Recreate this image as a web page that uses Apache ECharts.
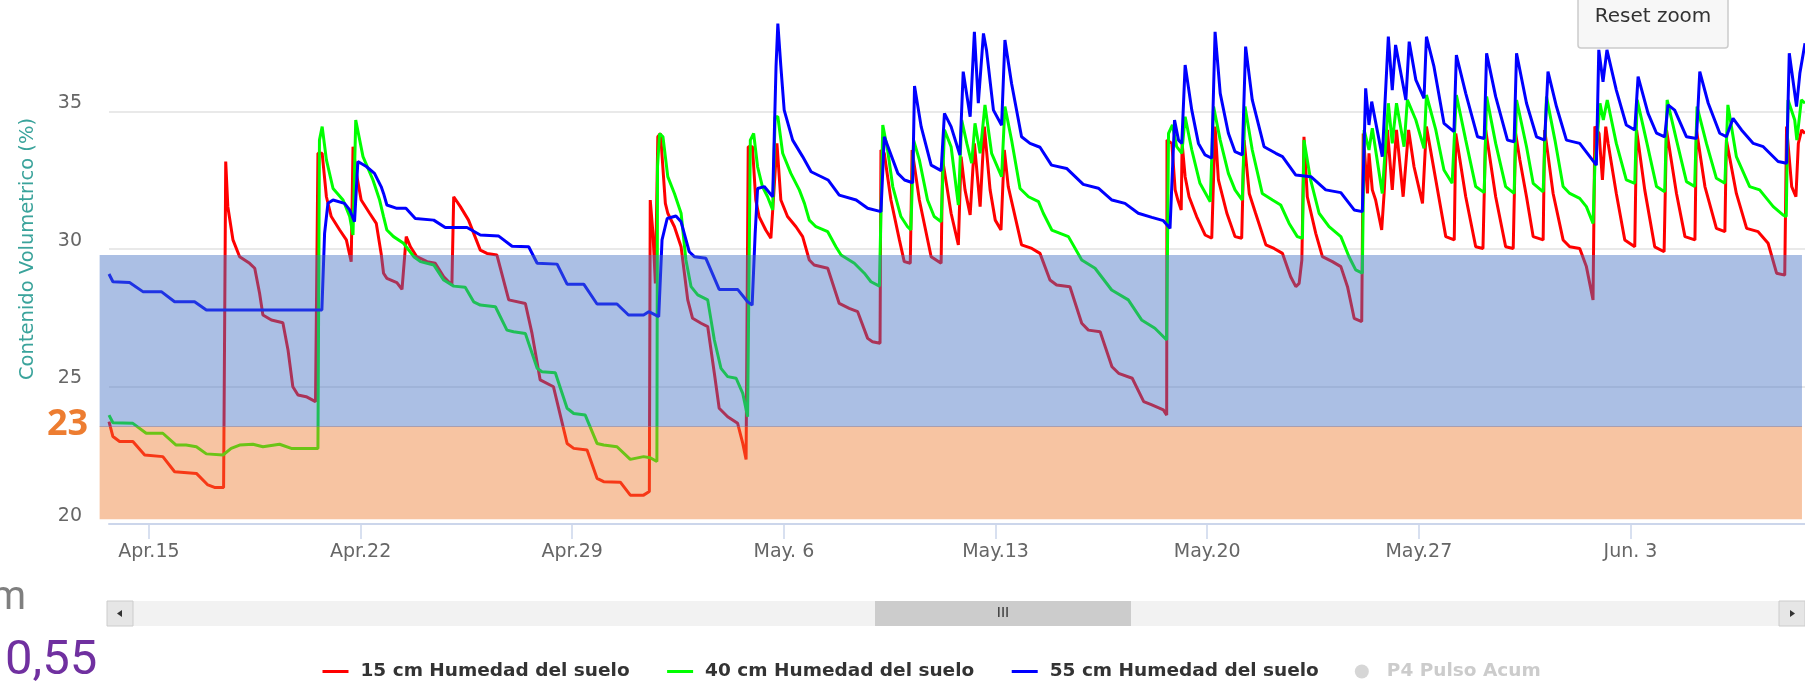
<!DOCTYPE html>
<html>
<head>
<meta charset="utf-8">
<script src="https://cdn.jsdelivr.net/npm/echarts@6/dist/echarts.min.js"></script>
<style>
  html, body { margin: 0; padding: 0; background: #fff; }
  #main { width: 1805px; height: 683px; }
</style>
</head>
<body>
<div id="main"></div>
<script>
// x values are days since Apr 15 (00:00), y values are % volumetric water
const seriesNames = ['15 cm Humedad del suelo', '40 cm Humedad del suelo', '55 cm Humedad del suelo', 'P4 Pulso Acum'];
const seriesColors = ['#ff0000', '#00ff00', '#0000ff', '#cccccc'];

const hum15 = [
  [-1.32,23.72],[-1.19,23.18],[-0.97,23.0],[-0.53,23.0],[-0.14,22.51],[0.46,22.45],[0.85,21.9],[1.57,21.84],[1.95,21.42],[2.17,21.33],[2.47,21.33],
  [2.54,33.18],[2.61,31.54],[2.78,30.33],[3.0,29.72],[3.33,29.48],[3.5,29.3],[3.66,28.39],[3.77,27.6],[4.05,27.42],[4.43,27.32],[4.6,26.33],[4.76,24.99],[4.93,24.69],[5.2,24.63],[5.51,24.45],
  [5.59,33.48],[5.73,33.48],[5.87,31.9],[6.03,31.18],[6.31,30.69],[6.53,30.33],[6.69,29.54],[6.75,33.72],[6.86,32.75],[7.02,31.78],[7.3,31.3],[7.52,30.93],[7.68,29.84],[7.76,29.12],[7.87,28.93],[8.2,28.78],[8.37,28.53],
  [8.51,30.45],[8.65,30.08],[8.86,29.72],[9.2,29.54],[9.47,29.48],[9.75,28.99],[10.02,28.69],[10.08,31.9],[10.3,31.54],[10.57,31.05],[10.96,29.96],[11.18,29.84],[11.51,29.78],[11.9,28.15],[12.45,28.02],[12.67,26.93],[12.94,25.24],[13.38,24.99],[13.83,22.93],[14.05,22.75],[14.49,22.69],[14.82,21.66],[15.04,21.54],[15.59,21.52],[15.92,21.05],[16.36,21.05],[16.55,21.18],
  [16.58,31.78],[16.67,30.57],[16.75,28.75],[16.83,34.08],[16.92,34.2],[17.08,31.66],[17.16,31.3],[17.38,30.81],[17.6,30.08],[17.82,28.15],[17.98,27.48],[18.26,27.3],[18.48,27.18],[18.7,25.48],[18.86,24.21],[19.14,23.9],[19.47,23.66],[19.64,22.93],[19.75,22.35],
  [19.82,33.72],[19.96,33.72],[20.07,31.78],[20.18,31.18],[20.4,30.69],[20.57,30.39],[20.68,32.27],[20.77,33.84],[20.9,31.78],[21.12,31.18],[21.4,30.81],[21.62,30.45],[21.84,29.6],[22.0,29.42],[22.45,29.3],[22.83,28.02],[23.16,27.84],[23.44,27.72],[23.77,26.75],[23.93,26.63],[24.18,26.57],
  [24.21,33.6],[24.32,33.48],[24.54,31.78],[24.82,30.33],[24.98,29.54],[25.18,29.48],[25.24,33.6],[25.48,31.78],[25.87,29.72],[26.2,29.48],[26.25,33.24],[26.53,31.3],[26.77,30.15],[26.86,33.36],[26.99,32.15],[27.16,31.24],[27.3,33.84],[27.49,31.54],[27.63,34.45],[27.82,32.15],[27.99,31.05],[28.18,30.69],[28.29,33.6],[28.42,32.27],
  [28.86,30.15],[29.2,30.02],[29.47,29.84],[29.8,28.87],[30.02,28.69],[30.46,28.63],[30.85,27.3],[31.07,27.05],[31.46,26.99],[31.85,25.72],[32.07,25.48],[32.52,25.3],[32.9,24.45],[33.17,24.33],[33.55,24.15],[33.66,23.96],
  [33.67,33.96],[33.83,33.84],[33.94,32.15],[34.03,31.78],[34.14,31.42],[34.17,33.84],[34.27,32.63],[34.4,31.9],[34.65,31.18],[34.93,30.51],[35.15,30.39],[35.26,34.45],[35.37,32.51],[35.65,31.3],[35.92,30.45],[36.14,30.39],[36.22,33.96],[36.39,32.02],[36.6,31.3],[36.94,30.15],[37.21,30.02],[37.49,29.84],[37.76,28.99],[37.93,28.63],[38.04,28.75],[38.13,29.6],
  [38.2,34.08],[38.31,31.9],[38.59,30.57],[38.81,29.72],[39.14,29.54],[39.42,29.36],[39.64,28.63],[39.86,27.48],[40.11,27.36],[40.16,34.2],[40.3,32.02],[40.35,33.48],[40.46,32.15],[40.57,31.78],[40.77,30.69],[40.85,32.02],[40.96,34.33],[41.12,32.15],[41.26,34.33],[41.48,31.9],[41.66,34.33],[41.84,32.99],[42.12,31.66],
  [42.25,34.45],[42.56,32.51],[42.89,30.45],[43.17,30.33],[43.22,34.2],[43.55,31.9],[43.88,30.08],[44.12,30.02],[44.21,34.33],[44.54,31.9],[44.87,30.08],[45.12,30.02],[45.2,34.2],[45.34,33.24],[45.56,31.9],[45.78,30.45],[46.11,30.33],[46.16,34.33],[46.44,32.02],[46.77,30.33],[46.99,30.08],[47.32,30.02],[47.54,29.36],[47.76,28.15],
  [47.82,34.45],[47.96,34.2],[48.07,32.51],[48.18,34.45],[48.26,33.84],[48.53,32.02],[48.81,30.33],[49.14,30.08],[49.2,34.33],[49.47,32.15],[49.8,30.08],[50.11,29.9],[50.19,34.33],[50.52,32.02],[50.8,30.45],[51.13,30.33],[51.18,34.33],[51.46,32.27],[51.84,30.75],[52.12,30.63],
  [52.17,33.96],[52.5,32.02],[52.84,30.75],[53.22,30.63],[53.55,30.21],[53.83,29.12],[54.1,29.05],[54.16,34.45],[54.33,32.27],[54.47,31.9],[54.55,33.84],[54.66,34.33],[54.77,34.2]
];

const hum40 = [
  [-1.32,23.96],[-1.19,23.68],[-0.53,23.66],[-0.09,23.3],[0.46,23.3],[0.9,22.87],[1.23,22.87],[1.57,22.81],[1.9,22.55],[2.45,22.51],[2.72,22.75],[3.0,22.87],[3.44,22.9],[3.77,22.81],[4.32,22.9],[4.71,22.75],[5.2,22.75],[5.59,22.75],
  [5.64,33.96],[5.73,34.45],[5.87,33.24],[6.09,32.2],[6.42,31.78],[6.64,31.18],[6.75,30.51],[6.84,34.69],[7.08,33.36],[7.41,32.51],[7.63,31.78],[7.76,31.18],[7.87,30.69],[8.09,30.45],[8.42,30.21],[8.76,29.72],[8.98,29.54],[9.42,29.42],[9.75,28.87],[10.08,28.65],[10.46,28.61],[10.74,28.08],[10.96,27.96],[11.46,27.9],
  [11.84,27.05],[12.06,26.99],[12.45,26.93],[12.84,25.66],[13.0,25.54],[13.44,25.5],[13.83,24.21],[14.05,24.02],[14.43,23.96],[14.82,22.93],[15.04,22.87],[15.48,22.81],[15.92,22.35],[16.36,22.45],[16.58,22.41],[16.8,22.27],
  [16.82,32.99],[16.89,34.2],[17.0,34.08],[17.16,32.63],[17.38,32.02],[17.6,31.3],[17.76,29.6],[17.93,28.63],[18.15,28.33],[18.48,28.15],[18.7,26.69],[18.92,25.66],[19.14,25.36],[19.42,25.3],[19.64,24.75],[19.8,23.9],
  [19.89,33.96],[20.0,34.2],[20.13,32.99],[20.29,32.27],[20.46,31.9],[20.63,31.42],[20.71,34.81],[20.8,34.81],[20.96,33.48],[21.23,32.75],[21.51,32.15],[21.68,31.66],[21.84,31.05],[22.06,30.81],[22.45,30.63],[22.72,30.08],[22.89,29.78],[23.33,29.48],[23.66,29.12],[23.88,28.81],[24.16,28.65],
  [24.27,34.51],[24.43,33.6],[24.6,32.27],[24.87,31.18],[25.09,30.81],[25.2,30.69],[25.29,33.96],[25.48,33.24],[25.75,31.78],[25.97,31.18],[26.2,30.99],[26.31,34.33],[26.53,33.72],[26.77,31.6],[26.88,34.69],[27.05,33.84],[27.21,33.12],[27.32,34.57],[27.49,33.48],[27.65,35.24],[27.87,33.48],[28.2,32.63],[28.31,35.18],[28.53,33.96],
  [28.81,32.2],[29.09,31.9],[29.42,31.72],[29.58,31.3],[29.86,30.69],[30.41,30.45],[30.85,29.6],[31.29,29.3],[31.84,28.51],[32.39,28.15],[32.83,27.42],[33.27,27.12],[33.66,26.69],
  [33.72,34.2],[33.85,34.51],[33.99,33.72],[34.16,33.48],[34.27,34.81],[34.49,33.6],[34.76,32.39],[35.1,31.72],[35.21,35.18],[35.43,33.96],[35.7,32.75],[35.92,32.15],[36.16,31.78],[36.25,35.18],[36.49,33.6],[36.82,32.02],[37.16,31.78],[37.43,31.6],[37.71,30.93],[37.98,30.45],[38.15,30.39],
  [38.2,33.96],[38.42,32.51],[38.7,31.3],[39.03,30.81],[39.42,30.45],[39.69,29.72],[39.91,29.24],[40.13,29.12],[40.19,34.33],[40.35,33.6],[40.46,34.39],[40.79,32.02],[40.99,35.3],[41.12,33.84],[41.26,35.3],[41.51,33.72],[41.62,35.42],[41.9,34.69],[42.17,33.66],
  [42.25,35.6],[42.56,34.33],[42.83,32.87],[43.1,32.39],[43.24,35.6],[43.55,33.96],[43.88,32.27],[44.16,32.05],[44.24,35.54],[44.54,33.84],[44.87,32.27],[45.15,32.02],[45.23,35.42],[45.56,33.72],[45.78,32.39],[46.11,32.08],[46.22,35.54],[46.5,33.96],[46.77,32.27],[46.99,32.02],[47.32,31.84],[47.54,31.54],[47.76,30.93],
  [47.82,32.99],[47.99,35.3],[48.1,34.69],[48.23,35.42],[48.53,33.84],[48.86,32.51],[49.14,32.39],[49.22,35.42],[49.52,33.96],[49.86,32.27],[50.13,32.08],[50.21,35.42],[50.52,33.96],[50.85,32.45],[51.12,32.27],[51.2,35.18],[51.51,33.84],[51.84,32.57],[52.12,32.39],
  [52.22,35.24],[52.5,33.36],[52.94,32.27],[53.27,32.15],[53.72,31.54],[54.04,31.24],[54.15,31.18],[54.21,35.42],[54.43,34.69],[54.5,33.96],[54.65,35.42],[54.77,35.3]
];

const hum55 = [
  [-1.32,29.09],[-1.19,28.81],[-0.64,28.78],[-0.2,28.45],[0.41,28.45],[0.85,28.08],[1.51,28.08],[1.9,27.78],[5.72,27.78],
  [5.81,30.57],[5.92,31.66],[6.09,31.78],[6.47,31.66],[6.64,31.42],[6.8,30.99],[6.91,33.18],[7.19,33.0],[7.46,32.75],[7.68,32.27],[7.76,32.02],[7.87,31.6],[8.2,31.48],[8.5,31.48],[8.81,31.11],[9.42,31.05],[9.8,30.78],[10.52,30.78],[10.96,30.51],[11.57,30.47],[12.01,30.1],[12.56,30.08],[12.84,29.48],[13.5,29.45],[13.83,28.72],[14.38,28.72],[14.82,28.0],[15.48,28.0],[15.86,27.6],[16.36,27.6],[16.53,27.72],[16.86,27.54],
  [16.97,30.33],[17.14,31.11],[17.43,31.2],[17.6,30.99],[17.87,29.9],[18.04,29.72],[18.42,29.66],[18.86,28.53],[19.47,28.53],[19.8,28.08],[19.95,27.96],
  [20.05,30.57],[20.13,32.2],[20.35,32.27],[20.63,31.9],[20.74,36.63],[20.8,38.2],[20.9,36.63],[21.01,35.05],[21.29,33.96],[21.62,33.36],[21.9,32.81],[22.46,32.51],[22.83,31.96],[23.39,31.78],[23.77,31.48],[24.21,31.36],
  [24.32,34.08],[24.77,32.75],[24.99,32.51],[25.26,32.41],[25.32,35.93],[25.54,34.45],[25.87,33.05],[26.2,32.85],[26.31,34.93],[26.53,34.45],[26.82,33.42],[26.93,36.45],[27.16,34.81],[27.3,37.9],[27.43,35.3],[27.6,37.84],[27.7,37.24],[27.93,35.05],[28.2,34.5],[28.31,37.6],[28.53,36.02],
  [28.86,34.08],[29.14,33.84],[29.47,33.7],[29.85,33.05],[30.35,32.93],[30.9,32.35],[31.4,32.21],[31.85,31.78],[32.28,31.66],[32.72,31.3],[33.17,31.15],[33.55,31.03],[33.77,30.75],
  [33.92,34.69],[34.05,33.96],[34.16,33.84],[34.27,36.69],[34.49,35.05],[34.71,33.84],[34.93,33.42],[35.15,33.3],[35.26,37.9],[35.43,35.66],[35.7,34.21],[35.92,33.54],[36.16,33.42],[36.27,37.36],[36.49,35.42],[36.88,33.72],[37.27,33.48],[37.49,33.36],[37.93,32.69],[38.43,32.63],[38.92,32.15],[39.42,32.05],[39.86,31.42],[40.13,31.36],
  [40.24,35.84],[40.35,34.51],[40.44,35.36],[40.79,33.36],[40.99,37.72],[41.12,35.78],[41.23,37.42],[41.57,35.42],[41.68,37.54],[41.9,36.15],[42.17,35.48],[42.25,37.72],[42.5,36.63],[42.83,34.57],[43.16,34.27],[43.24,37.05],[43.55,35.66],[43.94,34.08],[44.16,34.02],[44.24,37.12],[44.54,35.54],[44.93,33.96],[45.15,33.9],
  [45.23,37.12],[45.56,35.3],[45.89,34.08],[46.16,33.96],[46.27,36.45],[46.55,35.18],[46.88,33.96],[47.32,33.84],[47.87,33.05],[47.95,37.24],[48.09,36.08],[48.22,37.24],[48.53,35.78],[48.86,34.51],[49.14,34.33],[49.25,36.27],[49.58,34.93],[49.86,34.21],[50.13,34.08],
  [50.24,35.24],[50.46,35.05],[50.85,34.08],[51.18,34.02],[51.29,36.45],[51.57,35.3],[51.95,34.21],[52.17,34.08],[52.39,34.75],[52.67,34.33],[53.06,33.84],[53.39,33.72],[53.88,33.18],[54.16,33.12],[54.25,37.12],[54.49,35.18],[54.6,36.39],[54.77,37.48]
];

const tickDays = [0, 7, 14, 21, 28, 35, 42, 49];
const xRange = [-1.32, 54.77];
const yRange = [20, 40];
// overlay bands (pasted shapes over the chart), in axis units
const bandDays = [-1.63, 54.67];
const bandBlue = [23.56, 29.78];
const bandOrange = [20.17, 23.56];

const monthNames = ['Jan','Feb','Mar','Apr','May','Jun','Jul','Aug','Sep','Oct','Nov','Dec'];
const baseDay = Date.UTC(2019, 3, 15);

function dayLabel(d) {
    var dt = new Date(baseDay + Math.round(d) * 86400000);
    var day = dt.getUTCDate();
    return monthNames[dt.getUTCMonth()] + '.' + (day < 10 ? ' ' + day : day);
}

var chart = echarts.init(document.getElementById('main'));
var font = 'DejaVu Sans';

var series = [hum15, hum40, hum55].map(function (arr, i) {
    return {
        name: seriesNames[i],
        type: 'line',
        data: arr,
        symbol: 'none',
        showSymbol: false,
        smooth: false,
        color: seriesColors[i],
        lineStyle: { width: 3, color: seriesColors[i] },
        z: 2 + i
    };
});
series.push({
    name: seriesNames[3],
    type: 'scatter',
    data: [],
    symbol: 'circle',
    color: seriesColors[3]
});

// line items: hide the marker in the legend, keep only the line
var legendData = seriesNames.map(function (n, i) {
    return i < 3 ? { name: n, itemStyle: { opacity: 0 }, lineStyle: { width: 3, color: seriesColors[i] } } : { name: n };
});

chart.setOption({
    animation: false,
    backgroundColor: '#fff',
    grid: { left: 109, right: 0, top: -26, bottom: 159, containLabel: false, outerBoundsMode: 'none' },
    xAxis: {
        type: 'value',
        min: xRange[0],
        max: xRange[1],
        axisLine: { show: true, lineStyle: { color: '#ccd6eb', width: 2 } },
        axisTick: { show: true, length: 15, customValues: tickDays, lineStyle: { color: '#ccd6eb', width: 1.5 } },
        axisLabel: {
            customValues: tickDays,
            formatter: dayLabel,
            margin: 19,
            fontSize: 19,
            fontFamily: font,
            color: '#666666'
        },
        splitLine: { show: false }
    },
    yAxis: {
        type: 'value',
        min: yRange[0],
        max: yRange[1],
        interval: 5,
        name: 'Contenido Volumetrico (%)',
        nameLocation: 'middle',
        nameGap: 71,
        nameTextStyle: { color: '#3aa39b', fontSize: 19.5, fontFamily: font },
        axisLine: { show: false },
        axisTick: { show: false },
        axisLabel: {
            showMaxLabel: false,
            margin: 27,
            fontSize: 19,
            lineHeight: 16,
            fontFamily: font,
            color: '#666666',
            verticalAlign: 'bottom'
        },
        splitLine: { show: true, lineStyle: { color: '#e9e9e9', width: 2 } }
    },
    legend: {
        left: 316,
        top: 657,
        itemWidth: 26,
        itemHeight: 14,
        itemGap: 36,
        inactiveColor: '#cccccc',
        selected: { 'P4 Pulso Acum': false },
        data: legendData,
        textStyle: { fontFamily: font, fontWeight: 'bold', fontSize: 18.5, color: '#333333', padding: [0, 0, 0, 7] }
    },
    series: series
});

// overlay shapes placed from axis units
var p0 = chart.convertToPixel({ xAxisIndex: 0, yAxisIndex: 0 }, [bandDays[0], bandBlue[1]]);
var p1 = chart.convertToPixel({ xAxisIndex: 0, yAxisIndex: 0 }, [bandDays[1], bandBlue[0]]);
var p2 = chart.convertToPixel({ xAxisIndex: 0, yAxisIndex: 0 }, [bandDays[1], bandOrange[0]]);

var sbTop = 601, sbH = 25;
chart.setOption({
    graphic: [
        { type: 'rect', z: 10, silent: true, shape: { x: p0[0], y: p1[1], width: p2[0] - p0[0], height: p2[1] - p1[1] }, style: { fill: 'rgba(237,125,49,0.45)' } },
        { type: 'rect', z: 11, silent: true, shape: { x: p0[0], y: p0[1], width: p1[0] - p0[0], height: p1[1] - p0[1] + 1 }, style: { fill: 'rgba(68,114,196,0.45)' } },
        { type: 'text', z: 12, style: { text: '23', x: 47, y: 425, verticalAlign: 'middle', font: 'bold 36px "Open Sans"', fill: '#ED7D31' } },
        { type: 'text', z: 12, style: { text: 'm', x: 26, y: 599, align: 'right', verticalAlign: 'middle', font: '40px Roboto', fill: '#7f7f7f' } },
        { type: 'text', z: 12, style: { text: '0,55', x: 5, y: 662, verticalAlign: 'middle', font: '49px Roboto', fill: '#7030A0' } },
        // reset zoom button
        { type: 'rect', z: 12, shape: { x: 1578, y: -10, width: 150, height: 58, r: 3 }, style: { fill: '#f7f7f7', stroke: '#cccccc', lineWidth: 1.5 } },
        { type: 'text', z: 13, style: { text: 'Reset zoom', x: 1653, y: 17, align: 'center', verticalAlign: 'middle', font: '20px "DejaVu Sans"', fill: '#333333' } },
        // scrollbar
        { type: 'rect', z: 5, shape: { x: 107, y: sbTop, width: 1698, height: sbH }, style: { fill: '#f2f2f2' } },
        { type: 'rect', z: 6, shape: { x: 875, y: sbTop, width: 256, height: sbH }, style: { fill: '#cccccc' } },
        { type: 'text', z: 7, style: { text: 'III', x: 1003, y: sbTop + sbH / 2, align: 'center', verticalAlign: 'middle', font: '14px "DejaVu Sans"', fill: '#333333' } },
        { type: 'rect', z: 6, shape: { x: 107, y: sbTop, width: 26, height: sbH }, style: { fill: '#e6e6e6', stroke: '#cccccc', lineWidth: 1 } },
        { type: 'polygon', z: 7, shape: { points: [[117, sbTop + 12.5], [122, sbTop + 9], [122, sbTop + 16]] }, style: { fill: '#333333' } },
        { type: 'rect', z: 6, shape: { x: 1779, y: sbTop, width: 26, height: sbH }, style: { fill: '#e6e6e6', stroke: '#cccccc', lineWidth: 1 } },
        { type: 'polygon', z: 7, shape: { points: [[1795, sbTop + 12.5], [1790, sbTop + 9], [1790, sbTop + 16]] }, style: { fill: '#333333' } }
    ]
});
</script>
</body>
</html>
